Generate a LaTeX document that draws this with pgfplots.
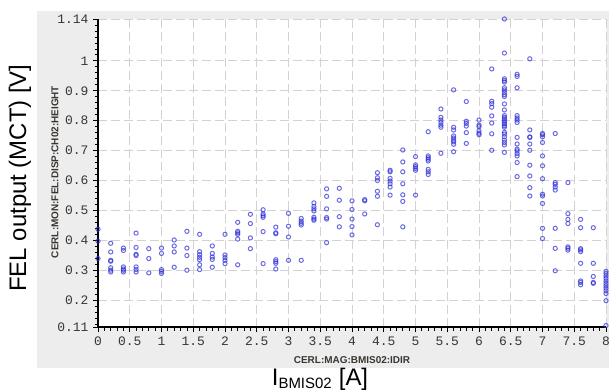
\documentclass[border=0pt]{standalone}
\usepackage{fontspec}
\usepackage{pgfplots}
\usepackage{pgfplotstable}
\pgfplotsset{compat=1.18}
\setmainfont{Liberation Sans}
\newfontfamily\monofont{Liberation Mono}
\definecolor{panel}{HTML}{EDEDED}
\definecolor{gridc}{HTML}{D2D2D2}
\definecolor{markc}{RGB}{50,50,215}
\definecolor{tickc}{HTML}{3A3530}

\pgfplotstableread{
x y
0 0.437
0 0.397
0 0.339
0.2 0.390
0.2 0.361
0.2 0.333
0.2 0.330
0.2 0.308
0.2 0.300
0.2 0.294
0.4 0.374
0.4 0.366
0.4 0.311
0.4 0.304
0.4 0.300
0.4 0.294
0.6 0.424
0.6 0.376
0.6 0.353
0.6 0.349
0.6 0.311
0.6 0.302
0.6 0.294
0.8 0.372
0.8 0.339
0.8 0.291
1.0 0.374
1.0 0.356
1.0 0.302
1.0 0.296
1.0 0.289
1.2 0.401
1.2 0.381
1.2 0.361
1.2 0.310
1.4 0.430
1.4 0.374
1.4 0.349
1.4 0.300
1.6 0.420
1.6 0.362
1.6 0.352
1.6 0.343
1.6 0.335
1.6 0.318
1.6 0.302
1.8 0.381
1.8 0.356
1.8 0.344
1.8 0.336
1.8 0.310
2.0 0.420
2.0 0.351
2.0 0.342
2.0 0.333
2.0 0.322
2.2 0.460
2.2 0.430
2.2 0.425
2.2 0.420
2.2 0.404
2.2 0.318
2.4 0.487
2.4 0.456
2.4 0.408
2.4 0.372
2.6 0.502
2.6 0.488
2.6 0.482
2.6 0.477
2.6 0.429
2.6 0.322
2.8 0.444
2.8 0.425
2.8 0.422
2.8 0.335
2.8 0.329
2.8 0.323
2.8 0.304
3.0 0.490
3.0 0.447
3.0 0.411
3.0 0.333
3.2 0.473
3.2 0.464
3.2 0.457
3.2 0.451
3.2 0.333
3.4 0.525
3.4 0.513
3.4 0.505
3.4 0.498
3.4 0.477
3.4 0.471
3.4 0.467
3.6 0.572
3.6 0.547
3.6 0.505
3.6 0.476
3.6 0.471
3.6 0.392
3.8 0.574
3.8 0.534
3.8 0.479
3.8 0.445
4.0 0.532
4.0 0.503
4.0 0.471
4.0 0.446
4.0 0.418
4.2 0.536
4.2 0.532
4.2 0.488
4.4 0.626
4.4 0.609
4.4 0.600
4.4 0.564
4.4 0.547
4.4 0.452
4.6 0.634
4.6 0.629
4.6 0.607
4.6 0.598
4.6 0.589
4.6 0.578
4.6 0.551
4.8 0.702
4.8 0.662
4.8 0.629
4.8 0.589
4.8 0.552
4.8 0.530
4.8 0.445
5.0 0.680
5.0 0.652
5.0 0.646
5.0 0.640
5.0 0.634
5.0 0.551
5.2 0.763
5.2 0.682
5.2 0.676
5.2 0.671
5.2 0.665
5.2 0.637
5.2 0.629
5.2 0.620
5.4 0.839
5.4 0.811
5.4 0.802
5.4 0.794
5.4 0.785
5.4 0.778
5.4 0.691
5.6 0.903
5.6 0.778
5.6 0.769
5.6 0.749
5.6 0.742
5.6 0.735
5.6 0.729
5.6 0.721
5.6 0.696
5.8 0.864
5.8 0.798
5.8 0.791
5.8 0.782
5.8 0.760
5.8 0.724
6.0 0.802
6.0 0.785
6.0 0.780
6.0 0.766
6.0 0.758
6.0 0.753
6.2 0.973
6.2 0.865
6.2 0.857
6.2 0.845
6.2 0.816
6.2 0.792
6.2 0.756
6.2 0.701
6.4 1.14
6.4 1.026
6.4 0.940
6.4 0.934
6.4 0.929
6.4 0.910
6.4 0.903
6.4 0.895
6.4 0.887
6.4 0.881
6.4 0.856
6.4 0.836
6.4 0.817
6.4 0.811
6.4 0.806
6.4 0.800
6.4 0.794
6.4 0.789
6.4 0.783
6.4 0.778
6.4 0.761
6.4 0.755
6.4 0.746
6.4 0.735
6.4 0.727
6.4 0.719
6.4 0.694
6.6 0.955
6.6 0.948
6.6 0.910
6.6 0.817
6.6 0.809
6.6 0.802
6.6 0.794
6.6 0.744
6.6 0.722
6.6 0.705
6.6 0.699
6.6 0.690
6.6 0.682
6.6 0.660
6.6 0.613
6.8 1.007
6.8 0.769
6.8 0.746
6.8 0.744
6.8 0.722
6.8 0.701
6.8 0.651
6.8 0.615
6.8 0.576
6.8 0.548
7.0 0.757
7.0 0.753
7.0 0.746
7.0 0.727
7.0 0.682
7.0 0.649
7.0 0.606
7.0 0.554
7.0 0.548
7.0 0.523
7.0 0.440
7.0 0.406
7.2 0.757
7.2 0.593
7.2 0.587
7.2 0.578
7.2 0.568
7.2 0.440
7.2 0.373
7.2 0.298
7.4 0.593
7.4 0.489
7.4 0.470
7.4 0.456
7.4 0.378
7.4 0.373
7.4 0.367
7.6 0.470
7.6 0.442
7.6 0.372
7.6 0.368
7.6 0.362
7.6 0.323
7.6 0.264
7.6 0.259
7.6 0.251
7.8 0.442
7.8 0.323
7.8 0.279
7.8 0.259
7.8 0.256
8.0 0.296
8.0 0.289
8.0 0.281
8.0 0.273
8.0 0.264
8.0 0.256
8.0 0.248
8.0 0.240
8.0 0.231
8.0 0.222
8.0 0.198
8.0 0.115
}\fel

\begin{document}
\begin{tikzpicture}[x=1bp,y=1bp]
\useasboundingbox (0,0) rectangle (609,391);
\fill[panel] (37,23) rectangle (609,380);
\begin{axis}[
  at={(98bp,64bp)}, anchor=south west,
  scale only axis, width=508bp, height=308bp,
  xmin=0, xmax=8, ymin=0.11, ymax=1.14,
  axis background/.style={fill=white},
  axis x line*=bottom, axis y line*=left,
  axis line style={line width=1.5bp, black},
  tick align=outside,
  major tick length=5bp, minor tick length=3.5bp,
  every tick/.style={black, line width=0.8bp},
  xtick={0,0.5,...,8},
  xticklabels={0,0.5,1,1.5,2,2.5,3,3.5,4,4.5,5,5.5,6,6.5,7,7.5,8},
  minor x tick num=4,
  ytick={0.11,0.2,0.3,0.4,0.5,0.6,0.7,0.8,0.9,1,1.14},
  yticklabels={0.11,0.2,0.3,0.4,0.5,0.6,0.7,0.8,0.9,1,1.14},
  minor ytick={0.12,0.14,0.16,0.18,0.22,0.24,0.26,0.28,0.32,0.34,0.36,0.38,0.42,0.44,0.46,0.48,0.52,0.54,0.56,0.58,0.62,0.64,0.66,0.68,0.72,0.74,0.76,0.78,0.82,0.84,0.86,0.88,0.92,0.94,0.96,0.98,1.02,1.04,1.06,1.08,1.10,1.12},
  ymajorgrids, xmajorgrids,
  major grid style={gridc, line width=0.9bp, dash pattern=on 9bp off 4bp},
  tick label style={font=\monofont\fontsize{13}{14}\selectfont, text=tickc},
  xticklabel style={yshift=-1bp},
  yticklabel style={xshift=-1bp},
  clip=false,
]
\addplot[only marks, mark=o, mark size=2.1bp,
  mark options={draw=markc, line width=1bp, draw opacity=0.72}]
  table[x=x, y=y] {\fel};
\end{axis}
\node[font=\bfseries\fontsize{10}{11}\selectfont, text=tickc] at (352,31) {CERL:MAG:BMIS02:IDIR};
\node[font=\bfseries\fontsize{10}{11}\selectfont, text=tickc, rotate=90] at (55,219) {CERL:MON:FEL:DISP:CH02:HEIGHT};
\node[font=\fontsize{24}{26}\selectfont, rotate=90] at (20,213) {FEL output (MCT) [V]};
\node[font=\fontsize{24}{26}\selectfont] at (320,12) {I\textsubscript{\fontsize{15}{16}\selectfont BMIS02} [A]};
\end{tikzpicture}
\end{document}
